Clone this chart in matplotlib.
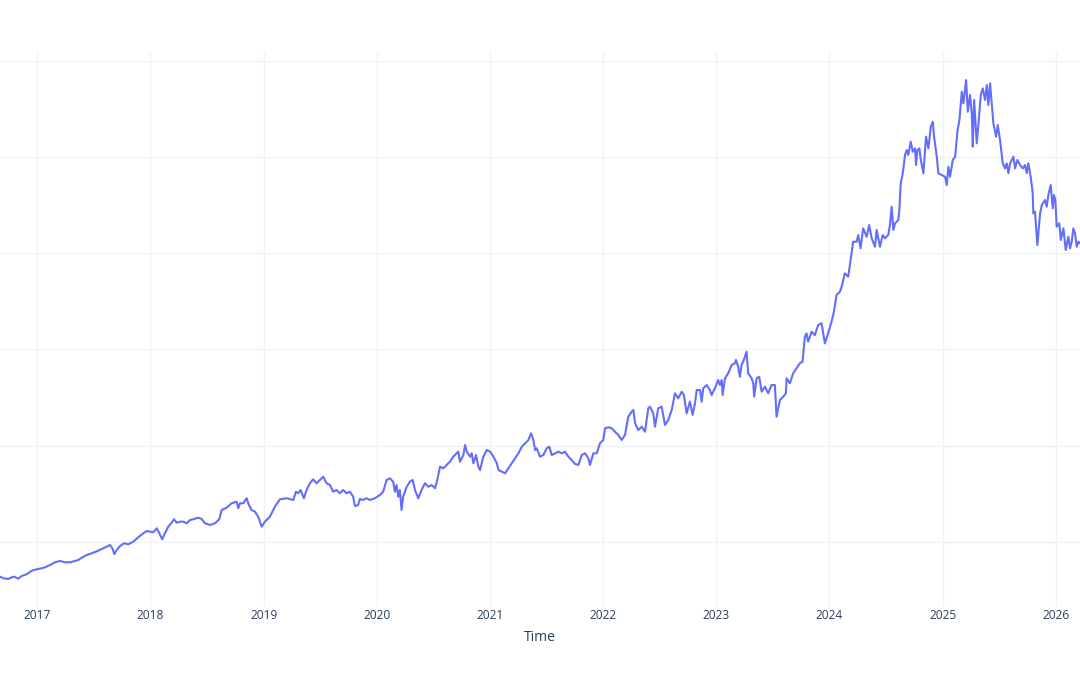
import matplotlib
matplotlib.use("Agg")
import matplotlib.pyplot as plt
import pandas as pd
import numpy as np

# Time as decimal years (arbitrary units, axis labels hidden)
time_dec = [
    2016.670, 2016.700, 2016.744, 2016.774, 2016.794, 2016.832, 2016.862, 2016.906, 2016.951, 2016.995,
    2017.039, 2017.068, 2017.112, 2017.156, 2017.201, 2017.245, 2017.289, 2017.333, 2017.362, 2017.392,
    2017.436, 2017.481, 2017.525, 2017.569, 2017.613, 2017.642, 2017.663, 2017.680, 2017.701, 2017.731,
    2017.766, 2017.804, 2017.848, 2017.892, 2017.936, 2017.967, 2017.996, 2018.025, 2018.055, 2018.078,
    2018.104, 2018.128, 2018.157, 2018.187, 2018.208, 2018.232, 2018.261, 2018.290, 2018.320, 2018.349,
    2018.378, 2018.422, 2018.452, 2018.482, 2018.526, 2018.570, 2018.608, 2018.629, 2018.673, 2018.717,
    2018.762, 2018.776, 2018.791, 2018.820, 2018.850, 2018.870, 2018.894, 2018.923, 2018.952, 2018.983,
    2019.012, 2019.056, 2019.100, 2019.144, 2019.203, 2019.262, 2019.286, 2019.306, 2019.327, 2019.356,
    2019.380, 2019.409, 2019.438, 2019.468, 2019.498, 2019.527, 2019.557, 2019.586, 2019.615, 2019.645,
    2019.674, 2019.703, 2019.733, 2019.763, 2019.792, 2019.807, 2019.836, 2019.851, 2019.880, 2019.910,
    2019.939, 2019.984, 2020.028, 2020.057, 2020.087, 2020.116, 2020.145, 2020.160, 2020.175, 2020.189,
    2020.204, 2020.219, 2020.233, 2020.264, 2020.293, 2020.317, 2020.337, 2020.366, 2020.396, 2020.425,
    2020.454, 2020.484, 2020.514, 2020.534, 2020.558, 2020.587, 2020.617, 2020.646, 2020.675, 2020.705,
    2020.719, 2020.734, 2020.764, 2020.779, 2020.794, 2020.823, 2020.838, 2020.852, 2020.876, 2020.896,
    2020.911, 2020.940, 2020.970, 2021.000, 2021.029, 2021.059, 2021.073, 2021.103, 2021.132, 2021.161,
    2021.191, 2021.220, 2021.250, 2021.280, 2021.309, 2021.338, 2021.362, 2021.382, 2021.397, 2021.412,
    2021.441, 2021.470, 2021.500, 2021.523, 2021.545, 2021.574, 2021.603, 2021.633, 2021.662, 2021.691,
    2021.721, 2021.750, 2021.780, 2021.810, 2021.839, 2021.868, 2021.883, 2021.912, 2021.942, 2021.971,
    2022.000, 2022.016, 2022.045, 2022.075, 2022.104, 2022.133, 2022.163, 2022.192, 2022.221, 2022.251,
    2022.266, 2022.281, 2022.310, 2022.340, 2022.369, 2022.398, 2022.413, 2022.442, 2022.457, 2022.486,
    2022.516, 2022.546, 2022.575, 2022.605, 2022.634, 2022.663, 2022.693, 2022.713, 2022.737, 2022.766,
    2022.790, 2022.811, 2022.826, 2022.855, 2022.870, 2022.884, 2022.914, 2022.943, 2022.958, 2022.987,
    2023.016, 2023.031, 2023.047, 2023.055, 2023.076, 2023.105, 2023.135, 2023.164, 2023.173, 2023.193,
    2023.208, 2023.223, 2023.243, 2023.267, 2023.281, 2023.311, 2023.326, 2023.334, 2023.356, 2023.379,
    2023.400, 2023.429, 2023.458, 2023.488, 2023.517, 2023.532, 2023.562, 2023.591, 2023.615, 2023.621,
    2023.650, 2023.679, 2023.709, 2023.738, 2023.762, 2023.782, 2023.797, 2023.811, 2023.842, 2023.871,
    2023.900, 2023.930, 2023.959, 2023.988, 2024.018, 2024.039, 2024.062, 2024.092, 2024.107, 2024.136,
    2024.165, 2024.186, 2024.209, 2024.239, 2024.253, 2024.274, 2024.297, 2024.328, 2024.350, 2024.372,
    2024.401, 2024.416, 2024.445, 2024.469, 2024.489, 2024.518, 2024.533, 2024.548, 2024.563, 2024.578,
    2024.607, 2024.616, 2024.628, 2024.646, 2024.666, 2024.681, 2024.695, 2024.716, 2024.734, 2024.754,
    2024.763, 2024.775, 2024.792, 2024.805, 2024.828, 2024.851, 2024.872, 2024.893, 2024.911, 2024.922,
    2024.946, 2024.960, 2024.990, 2025.019, 2025.034, 2025.048, 2025.063, 2025.087, 2025.108, 2025.128,
    2025.146, 2025.167, 2025.181, 2025.205, 2025.220, 2025.240, 2025.255, 2025.264, 2025.276, 2025.287,
    2025.299, 2025.317, 2025.335, 2025.352, 2025.373, 2025.388, 2025.402, 2025.417, 2025.432, 2025.446,
    2025.470, 2025.485, 2025.505, 2025.529, 2025.549, 2025.564, 2025.579, 2025.594, 2025.623, 2025.638,
    2025.658, 2025.682, 2025.706, 2025.726, 2025.741, 2025.755, 2025.776, 2025.794, 2025.799, 2025.814,
    2025.835, 2025.859, 2025.874, 2025.903, 2025.918, 2025.932, 2025.953, 2025.971, 2025.982, 2025.994,
    2026.006, 2026.029, 2026.042, 2026.065, 2026.086, 2026.109, 2026.124, 2026.139, 2026.153, 2026.168,
    2026.183, 2026.197, 2026.212,
]

values = [
    64.0, 62.3, 61.6, 63.3, 64.0, 61.9, 64.7, 66.5, 70.2, 71.7,
    72.7, 73.7, 76.1, 78.9, 80.3, 78.9, 78.9, 80.3, 81.3, 83.7,
    86.5, 88.3, 90.3, 92.7, 95.1, 96.9, 93.5, 87.5, 91.7, 95.8,
    98.7, 97.6, 100.3, 104.9, 109.0, 111.4, 110.7, 110.1, 114.2, 109.0,
    102.8, 109.0, 115.9, 120.0, 123.6, 120.0, 121.1, 121.1, 119.4, 122.8,
    123.6, 125.2, 123.9, 119.4, 117.7, 119.4, 123.6, 133.2, 135.6, 140.2,
    141.8, 135.0, 140.2, 140.2, 145.4, 138.4, 133.2, 131.5, 126.3, 115.9,
    121.1, 126.3, 136.7, 144.3, 145.4, 143.6, 152.2, 150.6, 154.0, 145.4,
    154.0, 161.0, 165.1, 161.0, 164.4, 167.8, 161.0, 159.2, 152.2, 154.0,
    150.6, 154.0, 150.6, 152.2, 147.0, 137.4, 138.4, 144.7, 143.6, 145.4,
    143.6, 145.4, 148.8, 152.2, 164.4, 166.1, 162.6, 152.2, 159.2, 147.0,
    154.0, 133.2, 147.0, 157.4, 162.6, 164.4, 154.0, 145.4, 154.0, 161.0,
    157.4, 159.2, 155.8, 164.4, 178.2, 176.5, 180.0, 183.4, 188.6, 192.1,
    193.8, 183.4, 190.3, 200.7, 193.8, 188.6, 192.1, 181.7, 190.3, 178.2,
    174.8, 188.6, 195.5, 193.8, 188.6, 181.7, 174.8, 173.0, 171.3, 176.5,
    181.7, 186.9, 192.1, 199.0, 202.5, 205.9, 212.9, 205.9, 195.5, 197.3,
    188.6, 190.3, 197.3, 199.0, 190.3, 192.1, 193.8, 192.1, 193.8, 188.6,
    185.1, 181.0, 180.0, 190.3, 192.1, 186.9, 180.0, 192.1, 192.1, 202.5,
    205.9, 218.1, 219.1, 218.1, 214.5, 211.1, 205.9, 211.1, 230.1, 235.3,
    237.1, 223.3, 216.3, 219.7, 214.5, 238.8, 240.5, 233.6, 219.7, 238.8,
    240.5, 221.5, 226.7, 237.1, 254.4, 249.2, 256.1, 252.6, 233.6, 245.7,
    231.9, 244.0, 257.8, 257.8, 245.7, 259.6, 263.0, 257.8, 252.6, 259.6,
    268.2, 263.0, 268.2, 252.6, 270.0, 275.2, 283.8, 285.6, 289.0, 282.0,
    271.6, 283.8, 289.0, 297.6, 275.2, 270.0, 264.8, 250.9, 270.0, 271.6,
    256.1, 261.3, 254.4, 263.0, 263.0, 230.1, 247.5, 250.9, 254.4, 270.0,
    264.8, 275.2, 280.4, 285.6, 287.2, 313.2, 316.7, 308.0, 318.4, 314.9,
    325.3, 327.1, 306.3, 316.7, 328.8, 339.1, 356.5, 359.9, 365.1, 379.0,
    375.5, 392.8, 411.8, 411.8, 418.8, 405.0, 425.7, 417.0, 429.2, 415.4,
    406.6, 424.0, 406.6, 418.8, 415.4, 418.8, 429.2, 448.2, 424.0, 430.9,
    434.4, 444.7, 472.5, 482.9, 501.9, 507.1, 501.9, 515.7, 505.3, 508.8,
    491.5, 507.1, 508.8, 496.7, 482.9, 520.9, 508.8, 531.3, 536.4, 520.9,
    500.1, 482.9, 481.1, 479.3, 470.7, 489.7, 479.3, 496.7, 500.1, 526.1,
    538.2, 567.6, 555.5, 579.7, 546.8, 564.2, 545.2, 510.5, 559.0, 538.2,
    514.0, 538.2, 564.2, 571.1, 559.0, 574.5, 553.8, 576.3, 555.5, 534.8,
    520.9, 533.0, 517.4, 493.2, 488.0, 493.2, 482.9, 493.2, 500.1, 488.0,
    496.7, 491.5, 488.0, 491.5, 482.9, 493.2, 479.3, 462.1, 441.3, 443.0,
    408.4, 441.3, 449.9, 455.1, 448.2, 460.3, 470.7, 446.5, 460.3, 455.1,
    427.4, 430.9, 413.6, 425.7, 403.2, 417.0, 405.0, 411.8, 425.7, 420.6,
    406.6, 411.8, 410.2,
]

tick_years = [2017, 2018, 2019, 2020, 2021, 2022, 2023, 2024, 2025, 2026]
y_grid = [100, 200, 300, 400, 500, 600]
x_title = "Time"


def dec_to_date(t):
    y = int(np.floor(t))
    start = pd.Timestamp(year=y, month=1, day=1)
    end = pd.Timestamp(year=y + 1, month=1, day=1)
    return start + (end - start) * (t - y)


dates = [dec_to_date(t) for t in time_dec]

plt.rcParams['font.family'] = ['Open Sans', 'DejaVu Sans']

fig = plt.figure(figsize=(10.8, 6.75), dpi=100)
ax = fig.add_axes([0.0, 0.1012, 1.0, 0.8237])
ax.set_facecolor('white')

ax.plot(dates, values, color='#636EFA', linewidth=1.5, solid_joinstyle='round', zorder=3)

ax.set_xlim(dec_to_date(2016.6705), dec_to_date(2026.2119))
ax.set_ylim(32.8, 610.2)

ax.set_xticks([pd.Timestamp(year=y, month=1, day=1) for y in tick_years])
ax.set_xticklabels([str(y) for y in tick_years])
ax.set_yticks(y_grid)
ax.set_yticklabels([])

ax.grid(True, color='#EEF2F9', linewidth=1, zorder=0)
ax.set_axisbelow(True)
for s in ax.spines.values():
    s.set_visible(False)
ax.tick_params(axis='both', length=0)
ax.tick_params(axis='x', colors='#2a3f5f', labelsize=8.6, pad=2)

ax.set_xlabel(x_title, color='#2a3f5f', fontsize=10, labelpad=5.5)

fig.savefig('out.png', dpi=100, facecolor='white')
